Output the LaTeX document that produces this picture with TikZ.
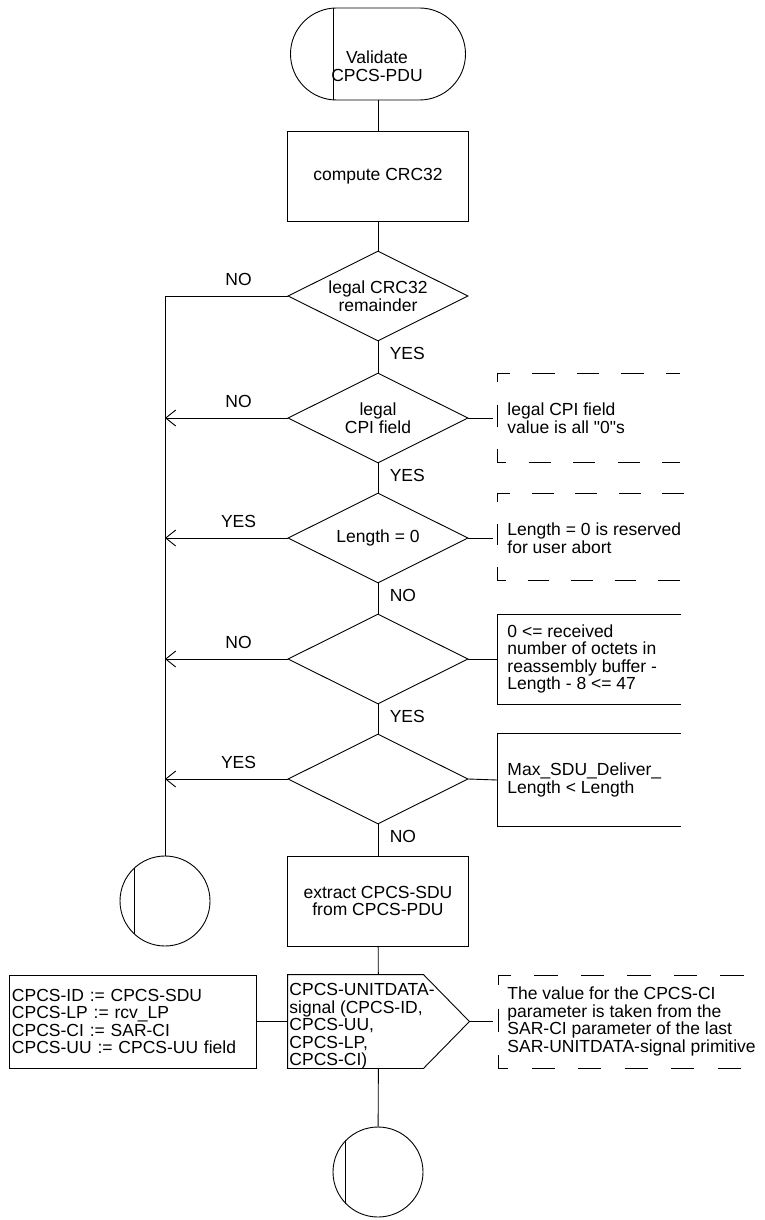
\documentclass[tikz,border=0pt]{standalone}
\usepackage{fontspec}
\setmainfont{Liberation Sans}
\usetikzlibrary{arrows.meta,shapes.geometric}

\begin{document}
\begin{tikzpicture}[x=1pt,y=-1pt,line width=0.9pt,>={Straight Barb[length=10pt,width=16pt]},
  every node/.style={align=center,font=\fontsize{17.5}{17.5}\selectfont},
  box/.style={draw,minimum width=181pt,minimum height=90pt,inner sep=0pt},
  test/.style={draw,diamond,aspect=2,minimum width=180pt,minimum height=90pt,inner sep=0pt},
  conn/.style={draw,circle,minimum size=90pt,inner sep=0pt},
  note/.style={anchor=west,align=left,inner xsep=10pt,inner ysep=0pt},
  no/.style={above=7pt,pos=0.4},
  yes/.style={right=8pt,pos=0.4},
  cdash/.style={dash pattern=on #1 off #1}]
\useasboundingbox (0,0) rectangle (764,1220);
% start
\node[draw,rounded corners=46pt,minimum width=175pt,minimum height=92pt] (st) at (378,54) {};
\draw ([xshift=43pt]st.north west) -- ([xshift=43pt]st.south west);
\node (sttxt) at (377,66) {Validate\\CPCS-PDU};
\node[box] (crc) at (378,176) {compute CRC32};
% tests
\node[test] (t1) at (378,296) {legal CRC32\\remainder};
\node[test] (t2) at (378,418) {legal\\CPI field};
\node[test] (t3) at (378,538) {Length = 0};
\node[test] (t4) at (378,659) {};
\node[test] (t5) at (378,779) {};
\node[box] (ext) at (378,901) {extract CPCS-SDU\\from CPCS-PDU};
% output signal
\node[minimum width=181pt,minimum height=93pt,inner sep=0pt] (out) at (378.5,1021.5) {};
\draw (out.north west) -- ([xshift=-46pt]out.north east) -- (out.east)
  -- ([xshift=-46pt]out.south east) -- (out.south west) -- cycle;
\node[anchor=north west,align=left,inner sep=0pt] (outtxt) at (289,983) {CPCS-UNITDATA-\\signal (CPCS-ID,\\CPCS-UU,\\CPCS-LP,\\CPCS-CI)};
\node[draw,text width=241pt,minimum height=93pt,align=left,inner xsep=3pt] (asg) at (132.5,1021.5) {CPCS-ID := CPCS-SDU\\CPCS-LP := rcv\_LP\\CPCS-CI := SAR-CI\\CPCS-UU := CPCS-UU field};
\node[conn] (c1) at (165,901) {};
\draw (c1.133) -- (c1.227);
\node[conn] (c2) at (378,1172) {};
\draw (c2.135) -- (c2.225);
% comments
\node[note,inner xsep=14pt] (cm1) at (493,418) {legal CPI field\\value is all \textquotedbl 0\textquotedbl s};
\draw[cdash=22.25pt,dash phase=8pt] (680,373) -- (497,373) -- (497,462) -- (680,462);
\node[note,inner xsep=14pt] (cm2) at (493,538) {Length = 0 is reserved\\for user abort};
\draw[cdash=21.75pt,dash phase=29.5pt] (698,493) -- (497,493) -- (497,580) -- (698,580);
\node[note] (cm3) at (497,659) {0 <= received\\number of octets in\\reassembly buffer -\\Length - 8 <= 47};
\draw (681,614) -- (497,614) -- (497,704) -- (681,704);
\node[note] (cm4) at (497,780) {Max\_SDU\_Deliver\_\\Length < Length};
\draw (681,733) -- (497,733) -- (497,826) -- (681,826);
\node[note,inner xsep=14pt] (cm5) at (493,1021.5) {The value for the CPCS-CI\\parameter is taken from the\\SAR-CI parameter of the last\\SAR-UNITDATA-signal primitive};
\draw[cdash=23.25pt,dash phase=26pt] (764,975) -- (498,975) -- (498,1068) -- (764,1068);
% flow
\draw (st) -- (crc);
\draw (crc) -- (t1);
\draw (t1) -- node[yes] {YES} (t2);
\draw (t2) -- node[yes] {YES} (t3);
\draw (t3) -- node[yes] {NO} (t4);
\draw (t4) -- node[yes] {YES} (t5);
\draw (t5) -- node[yes] {NO} (ext);
\draw (ext) -- (out);
\draw (out) -- (c2);
\draw (asg.east) -- (out.west);
\draw (out.east) -- (cm5.west);
\draw (t2.east) -- (cm1.west);
\draw (t3.east) -- (cm2.west);
\draw (t4.east) -- (cm3.west);
\draw (t5.east) -- (cm4.west);
\draw (t1.west) -- node[no] {NO} (t1.west -| c1) -- (c1);
\draw[->] (t2.west) -- node[no] {NO} (t2.west -| c1);
\draw[->] (t3.west) -- node[no] {YES} (t3.west -| c1);
\draw[->] (t4.west) -- node[no] {NO} (t4.west -| c1);
\draw[->] (t5.west) -- node[no] {YES} (t5.west -| c1);
\end{tikzpicture}
\end{document}
